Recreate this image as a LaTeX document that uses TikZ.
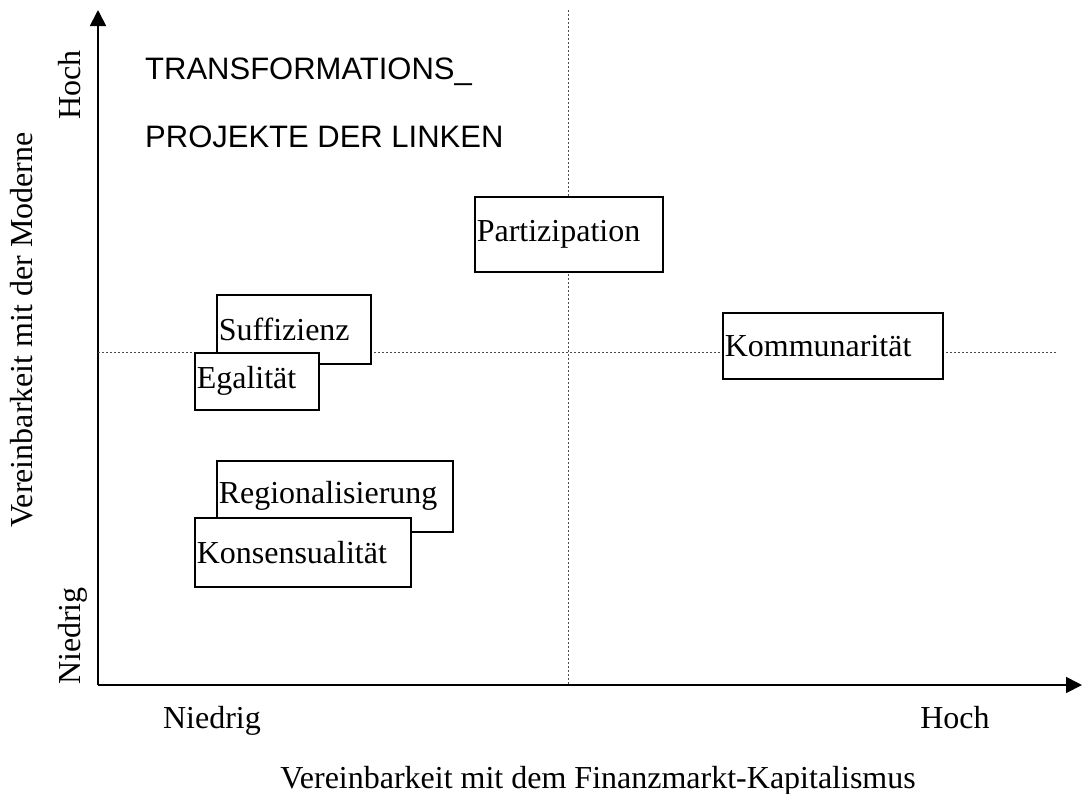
\documentclass[tikz,border=0pt]{standalone}
\usepackage{fontspec}
\setmainfont{Liberation Serif}
\setsansfont{Liberation Sans}
\usetikzlibrary{arrows.meta}

\tikzset{
    termbox/.style={draw, fill=white, line width=1.5, anchor=north west,
        align=left, inner xsep=2, inner ysep=0, font=\fontsize{32}{36}\selectfont},
    guide/.style={line width=0.8, dash pattern=on 2 off 2, black!70},
    axis/.style={line width=1.8, -{Triangle[length=16,width=16]}},
    lbl/.style={inner sep=0, font=\fontsize{32}{36}\selectfont}
}

\begin{document}
\begin{tikzpicture}[x=1pt, y=-1pt]
        \useasboundingbox (0,0) rectangle (1082,793);
        % axes
        \coordinate (o) at (98,685);
        \coordinate (ytop) at (98,10);
        \coordinate (xend) at (1082,685);
        \draw[axis] (o) -- (ytop);
        \draw[axis] (o) -- (xend);
        % quadrant guides
        \coordinate (hl) at (98,352);
        \coordinate (hr) at (1057,352);
        \coordinate (vt) at (568,10);
        \coordinate (vb) at (568,685);
        \draw[guide] (hl) -- (hr);
        \draw[guide] (vt) -- (vb);
        % projects: name/x/y/width/height
        \foreach \name/\x/\y/\w/\h in {Partizipation/474/196/188/75,
                                      Suffizienz/216/294/154/69,
                                      Egalität/194/352/124/57,
                                      Kommunarität/722/312/220/66,
                                      Regionalisierung/216/460/236/71,
                                      Konsensualität/194/517/216/69}
            {%
                \node[termbox, text width=\w-4, minimum height=\h] (\name) at (\x,\y) {\name};
            }
        % title
        \node[lbl, font=\sffamily\fontsize{31}{36}\selectfont, anchor=west] (title1) at (145,72) {TRANSFORMATIONS\_};
        \node[lbl, font=\sffamily\fontsize{31}{36}\selectfont, anchor=west] (title2) at (145,137) {PROJEKTE DER LINKEN};
        % axis labels
        \node[lbl, rotate=90] (ylabel) at (22,330) {Vereinbarkeit mit der Moderne};
        \node[lbl, rotate=90, anchor=base] (yhigh) at (80,85) {Hoch};
        \node[lbl, rotate=90, anchor=base] (ylow) at (80,636) {Niedrig};
        \node[lbl, anchor=base] (xlow) at (212,728) {Niedrig};
        \node[lbl, anchor=base] (xhigh) at (955,728) {Hoch};
        \node[lbl, anchor=base] (xlabel) at (598,788) {Vereinbarkeit mit dem Finanzmarkt-Kapitalismus};
\end{tikzpicture}
\end{document}
